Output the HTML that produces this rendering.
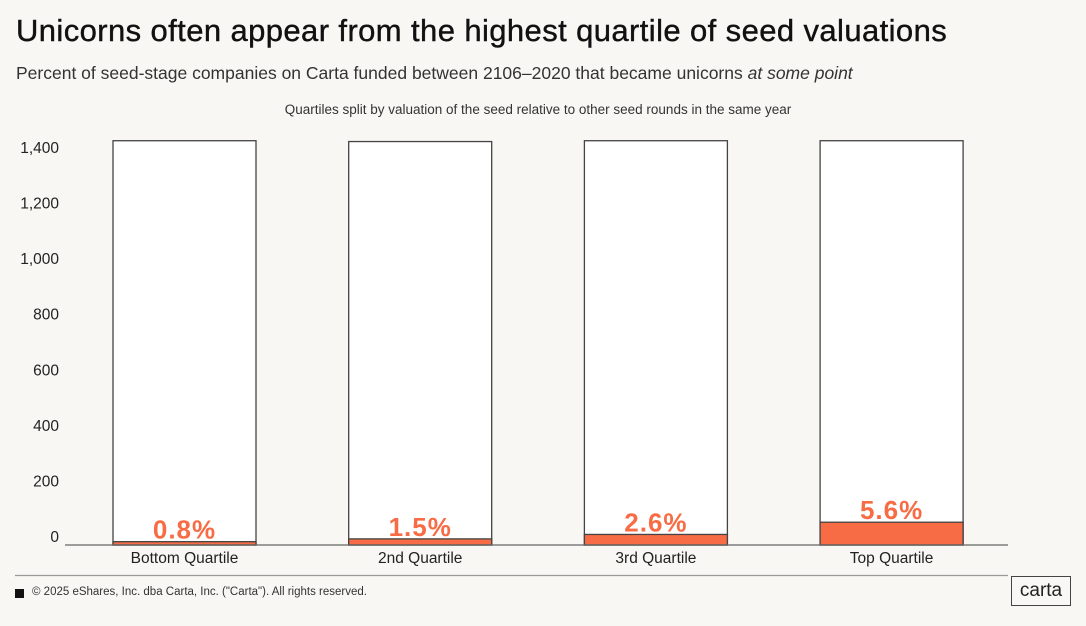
<!DOCTYPE html>
<html><head><meta charset="utf-8"><style>
body{margin:0;width:1086px;height:626px;background:#f9f7f4;font-family:"Liberation Sans",sans-serif;overflow:hidden;position:relative}
.t{position:absolute;left:16px;top:13px;font-size:31px;color:#111;letter-spacing:0.4px;-webkit-text-stroke:0.4px #111}
.s{position:absolute;left:16px;top:63px;font-size:17.5px;color:#333}
.n{position:absolute;left:0;width:1076px;text-align:center;top:102px;font-size:13.5px;color:#333}
svg{position:absolute;left:0;top:0}
</style></head><body>
<div class="t">Unicorns often appear from the highest quartile of seed valuations</div>
<div class="s">Percent of seed-stage companies on Carta funded between 2106–2020 that became unicorns <i>at some point</i></div>
<div class="n">Quartiles split by valuation of the seed relative to other seed rounds in the same year</div>
<svg id="c" width="1086" height="626"></svg>
<script>
const categories=["Bottom Quartile","2nd Quartile","3rd Quartile","Top Quartile"];
const totals=[1455,1452,1455,1455];
const unicorns=[12,22,38,82];
const pctLabels=["0.8%","1.5%","2.6%","5.6%"];
const yTicks=[0,200,400,600,800,1000,1200,1400];
const tickLabels=["0","200","400","600","800","1,000","1,200","1,400"];
const NS="http://www.w3.org/2000/svg";
const svg=document.getElementById('c');
const y=v=>545-v*(389/1400);
const x=i=>113+i*235.7;
const bw=143;
function mk(t,a){const e=document.createElementNS(NS,t);for(const k in a)e.setAttribute(k,a[k]);svg.appendChild(e);return e;}
yTicks.forEach((v,i)=>{const e=mk('text',{x:59,y:y(v)-3,'text-anchor':'end','font-size':15.5,fill:'#222','font-family':'Liberation Sans'});e.textContent=tickLabels[i];

});
categories.forEach((c,i)=>{
const b=mk('rect',{x:x(i),y:y(totals[i]),width:bw,height:545-y(totals[i]),fill:'#fff',stroke:'#444','stroke-width':1.3});


const o=mk('rect',{x:x(i),y:y(unicorns[i]),width:bw,height:545-y(unicorns[i]),fill:'#f76c45',stroke:'#444','stroke-width':1.3});


const l=mk('text',{x:x(i)+bw/2,y:y(unicorns[i])-3,'text-anchor':'middle','font-size':26,'font-weight':'bold',fill:'#f76c45','font-family':'Liberation Sans','letter-spacing':1});l.textContent=pctLabels[i];


const t=mk('text',{x:x(i)+bw/2,y:563,'text-anchor':'middle','font-size':15.5,fill:'#222','font-family':'Liberation Sans'});t.textContent=c;


});
const ax=mk('line',{x1:65,x2:1008,y1:545,y2:545,stroke:'#666','stroke-width':1.3});


const fl=mk('line',{x1:15,x2:1008,y1:575.5,y2:575.5,stroke:'#999','stroke-width':1.3});


</script>
<div style="position:absolute;left:15px;top:589px;width:9px;height:9px;background:#111"></div>
<div style="position:absolute;left:32px;top:586px;font-size:11.5px;color:#333">© 2025 eShares, Inc. dba Carta, Inc. ("Carta"). All rights reserved.</div>
<div style="position:absolute;left:1011px;top:576px;width:60px;height:30px;border:1.5px solid #444;box-sizing:border-box;font-size:19px;line-height:27px;text-align:center;color:#222">carta</div>
</body></html>
